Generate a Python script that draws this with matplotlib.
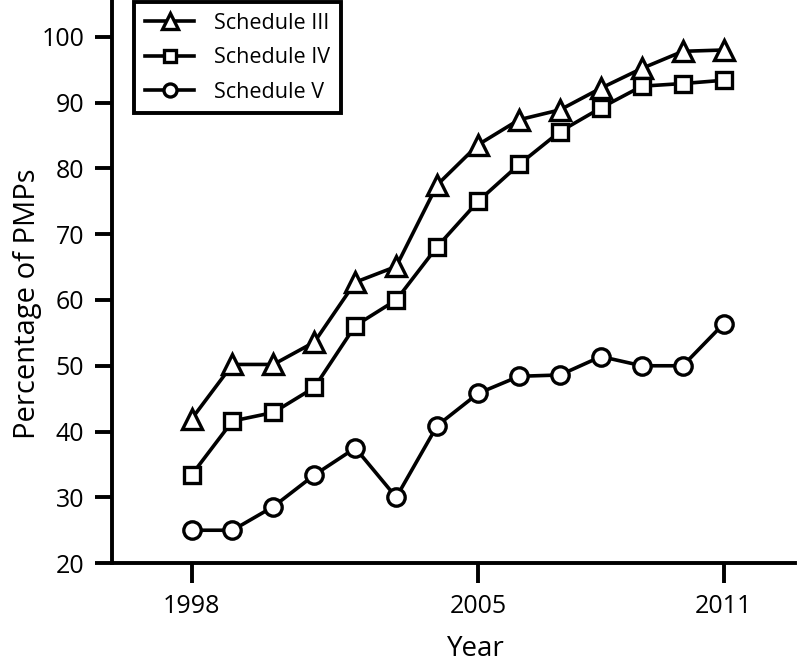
import matplotlib
matplotlib.use("Agg")
import matplotlib.pyplot as plt

plt.rcParams["font.family"] = ["Open Sans", "DejaVu Sans"]

YEARS = list(range(1998, 2012))
SCHEDULE_III = [41.9, 50.2, 50.2, 53.6, 62.7, 65.1, 77.5, 83.6, 87.4, 88.9, 92.2, 95.2, 97.8, 98.0]
SCHEDULE_IV = [33.4, 41.6, 42.9, 46.7, 56.1, 60.0, 68.1, 75.0, 80.6, 85.6, 89.2, 92.5, 92.9, 93.4]
SCHEDULE_V = [25.0, 25.0, 28.6, 33.4, 37.5, 30.0, 40.9, 45.8, 48.4, 48.6, 51.4, 50.0, 50.0, 56.4]
SERIES = [
    ("Schedule III", SCHEDULE_III, "^", 15),
    ("Schedule IV", SCHEDULE_IV, "s", 11.5),
    ("Schedule V", SCHEDULE_V, "o", 12.5),
]
X_TICKS = [1998, 2005, 2011]
Y_TICKS = [20, 30, 40, 50, 60, 70, 80, 90, 100]


def main():
    fig = plt.figure(figsize=(8.01, 6.68), dpi=100)
    ax = fig.add_axes([0.14, 0.157, 0.853, 0.843])

    for label, values, marker, size in SERIES:
        ax.plot(YEARS, values, color="black", linewidth=2.6, marker=marker,
                markersize=size, markerfacecolor="white", markeredgecolor="black",
                markeredgewidth=2.4, label=label, clip_on=False)

    ax.set_xlim(1996.06, 2012.75)
    ax.set_ylim(20, 105.6)
    ax.set_xticks(X_TICKS)
    ax.set_yticks(Y_TICKS)

    for side in ["top", "right"]:
        ax.spines[side].set_visible(False)
    for side in ["left", "bottom"]:
        ax.spines[side].set_linewidth(2.8)

    ax.tick_params(axis="x", direction="out", length=14.5, width=2.8, labelsize=18, pad=8)
    ax.tick_params(axis="y", direction="out", length=12, width=2.8, labelsize=18, pad=8)

    ax.set_xlabel("Year", fontsize=20)
    ax.xaxis.set_label_coords(0.533, -0.128)
    ax.set_ylabel("Percentage of PMPs", fontsize=21)
    ax.yaxis.set_label_coords(-0.103, 0.46)

    leg = ax.legend(loc="upper left", bbox_to_anchor=(0.032, 0.996), borderaxespad=0,
                    fontsize=15.5, frameon=True, fancybox=False, edgecolor="black",
                    framealpha=1, markerscale=0.75, handlelength=2.3,
                    borderpad=0.5, labelspacing=0.62, handletextpad=0.9)
    leg.get_frame().set_linewidth(2.8)

    fig.savefig("out.png", dpi=100)
    plt.close(fig)


if __name__ == "__main__":
    main()
